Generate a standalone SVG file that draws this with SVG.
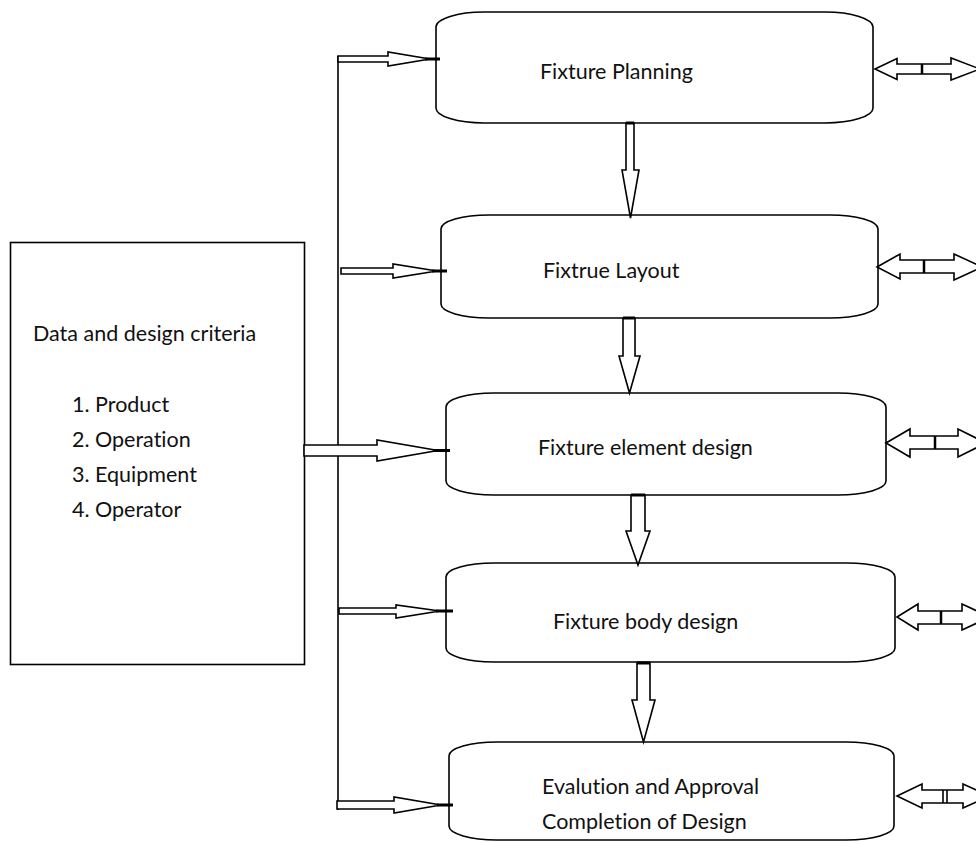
<svg xmlns="http://www.w3.org/2000/svg" width="976" height="843" viewBox="0 0 976 843">
<style>
.box{fill:#fff;stroke:#000;stroke-width:1.6}
.ar{fill:#fff;stroke:#000;stroke-width:1.6;stroke-linejoin:miter}
.tip{stroke:#000;stroke-width:3}
.ln{stroke:#000;stroke-width:1.6;fill:none}
.dv{stroke:#000;stroke-width:2.5}
text{font-family:Lato,"Open Sans","Liberation Sans",sans-serif;font-size:21.5px;fill:#111;font-variant-ligatures:none;font-feature-settings:"liga" 0,"dlig" 0}
</style>
<rect width="976" height="843" fill="#fff"/>
<g id="criteria">
<rect class="box" x="10.5" y="242.5" width="294" height="422"/>
<text x="33" y="341">Data and design criteria</text>
<text x="72" y="412">1. Product</text>
<text x="72" y="447">2. Operation</text>
<text x="72" y="482">3. Equipment</text>
<text x="72" y="517">4. Operator</text>
</g>
<g id="planning">
<rect class="box" x="436" y="12" width="437" height="111" rx="48" ry="15"/>
<text x="540" y="79">Fixture Planning</text>
</g>
<g id="layout">
<rect class="box" x="441" y="215" width="437" height="103" rx="48" ry="14"/>
<text x="543" y="278">Fixtrue Layout</text>
</g>
<g id="element">
<rect class="box" x="446" y="393" width="440" height="102" rx="48" ry="14"/>
<text x="538" y="455">Fixture element design</text>
</g>
<g id="body">
<rect class="box" x="446" y="563" width="449" height="99" rx="48" ry="14"/>
<text x="553" y="629">Fixture body design</text>
</g>
<g id="evaluation">
<rect class="box" x="449" y="742" width="445" height="98" rx="48" ry="14"/>
<text x="542" y="794">Evalution and Approval</text>
<text x="542" y="829">Completion of Design</text>
</g>
<g id="connectors">
<line class="ln" x1="338" y1="56" x2="338" y2="810"/>
<path class="ar" d="M338,56 H388 V52 L430,59 L388,66 V62 H338 Z"/>
<line class="tip" x1="425" y1="59" x2="440" y2="59"/>
<path class="ar" d="M341,268 H393 V264 L437,271 L393,278 V274 H341 Z"/>
<line class="tip" x1="432" y1="271" x2="447" y2="271"/>
<path class="ar" d="M304,445 H377 V440 L438,450.5 L377,461 V456 H304 Z"/>
<line class="tip" x1="433" y1="450.5" x2="450" y2="450.5"/>
<path class="ar" d="M339,608 H396 V605 L440,611 L396,618 V614 H339 Z"/>
<line class="tip" x1="436" y1="611" x2="453" y2="611"/>
<path class="ar" d="M337,801 H394 V797 L441,805 L394,813 V809 H337 Z"/>
<line class="tip" x1="437" y1="805" x2="453" y2="805"/>
<path class="ar" d="M626,123 V170 H622 L630.5,218 L639,170 H634 V123 Z"/>
<line class="tip" x1="626" y1="123" x2="634" y2="123"/>
<path class="ar" d="M623,318 V356 H619 L629.5,393 L640,356 H635 V318 Z"/>
<line class="tip" x1="623" y1="318" x2="635" y2="318"/>
<path class="ar" d="M631,495 V531 H626 L638,565 L650,531 H645 V495 Z"/>
<line class="tip" x1="631" y1="495" x2="645" y2="495"/>
<path class="ar" d="M637,663 V700 H632 L643.5,742 L655,700 H650 V663 Z"/>
<line class="tip" x1="637" y1="663" x2="650" y2="663"/>
<path class="ar" d="M875,69 L897,58.5 V64 H951 V58 L980,69 L951,80 V74 H897 V79.5 Z"/>
<line class="dv" x1="922" y1="64" x2="922" y2="74"/>
<path class="ar" d="M877,267 L900,254 V260 H954 V254 L982,267 L954,280 V273 H900 V279 Z"/>
<line class="dv" x1="924" y1="260" x2="924" y2="273"/>
<path class="ar" d="M886,443 L910,429 V436 H958 V429 L986,443 L958,457 V449 H910 V457 Z"/>
<line class="dv" x1="935" y1="436" x2="935" y2="449"/>
<path class="ar" d="M897,617 L918,604 V611 H962 V604 L990,617 L962,630 V624 H918 V630 Z"/>
<line class="dv" x1="941" y1="611" x2="941" y2="624"/>
<path class="ar" d="M897,796 L922,784 V790 H963 V784 L990,796 L963,808 V803 H922 V808 Z"/>
<line class="ln" x1="943" y1="790" x2="943" y2="803"/>
<line class="ln" x1="947" y1="790" x2="947" y2="803"/>
</g>
</svg>
